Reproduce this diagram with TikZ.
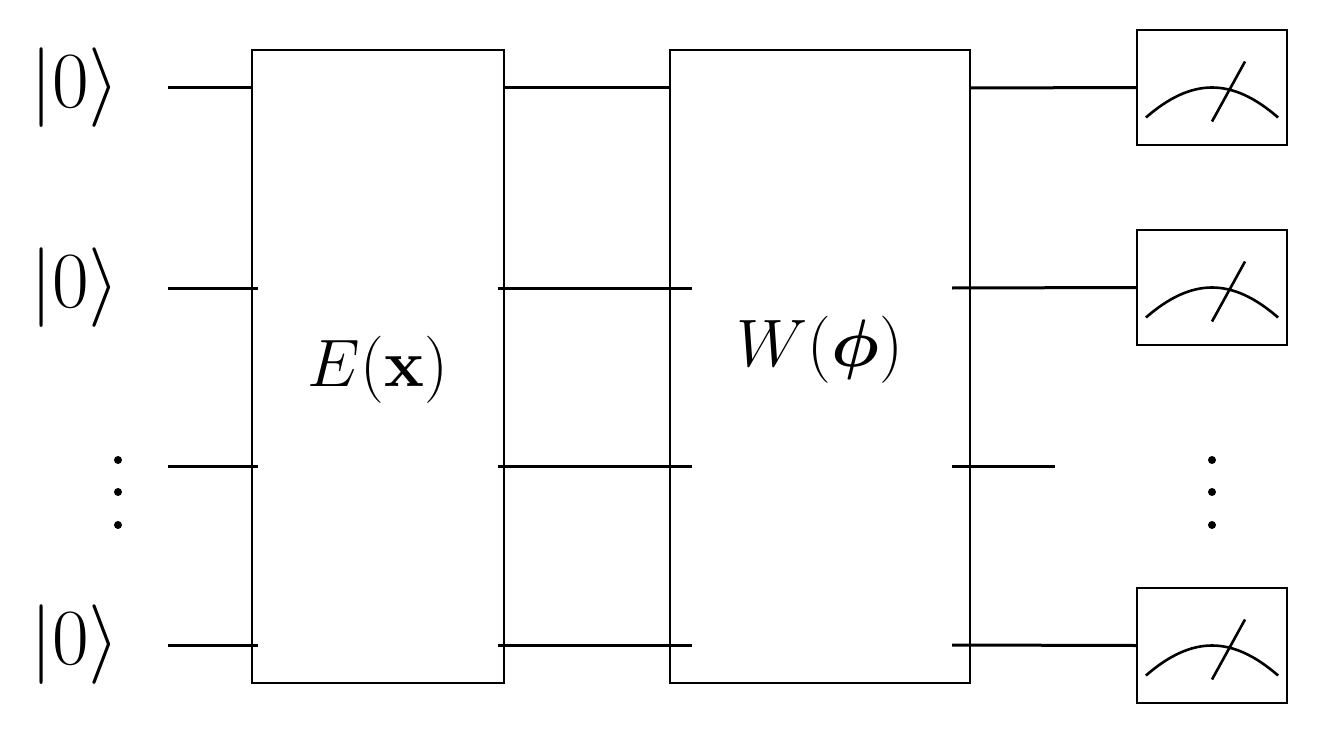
\documentclass[tikz,border=0pt]{standalone}
\usepackage{amsmath,bm}
\begin{document}
\begin{tikzpicture}[x=0.5pt,y=-0.5pt,
  wire/.style={line width=1.5pt},
  gatebox/.style={draw,line width=1.1pt,inner sep=0pt},
  ket/.style={font=\fontsize{40pt}{44pt}\selectfont,scale=1.6},
  lbl/.style={font=\fontsize{38pt}{42pt}\selectfont,scale=1.35}]
\useasboundingbox (0,0) rectangle (1322,738);
% kets
\node[ket] (k1) at (75,88) {$|0\rangle$};
\node[ket] (k2) at (75,288) {$|0\rangle$};
\node[ket] (k4) at (75,645) {$|0\rangle$};
\foreach \y in {460,492,525}{\fill (118,\y) circle (4); \fill (1212,\y) circle (4);}
% gates
\node[gatebox,minimum width=126pt,minimum height=316.5pt] (E) at (378,366.5) {};
\node[lbl] at (378,370) {$E(\mathbf{x})$};
\node[gatebox,minimum width=150pt,minimum height=316.5pt] (W) at (820,366.5) {};
\node[lbl] at (820,350) {$W(\bm{\phi})$};
% meters
\foreach \n/\cy in {1/87.5,2/287.5,3/645.5}{
  \node[gatebox,minimum width=75pt,minimum height=57.5pt] (m\n) at (1212,\cy) {};
  \draw[line width=1.3pt] ([xshift=5pt,yshift=-15pt]m\n.west) .. controls ([xshift=-10pt,yshift=5pt]m\n.center) and ([xshift=10pt,yshift=5pt]m\n.center) .. ([xshift=-5pt,yshift=-15pt]m\n.east);
  \draw[line width=1.3pt] ([yshift=-17pt]m\n.center) -- ([xshift=16.5pt,yshift=13pt]m\n.center);
}
% wires
\draw[wire] (168,88) -- (E.west |- 0,88);
\draw[wire] (E.east |- 0,88) -- (W.west |- 0,88);
\draw[wire] (W.east |- 0,88) -- (m1.west);
\foreach \y/\m in {288/m2,645/m3}{
  \draw[wire] (168,\y) -- (258,\y);
  \draw[wire] (498,\y) -- (692,\y);
  \draw[wire] (952,\y) -- (\m.west);
}
\draw[wire] (168,466) -- (258,466);
\draw[wire] (498,466) -- (692,466);
\draw[wire] (952,466) -- (1055,466);
\end{tikzpicture}
\end{document}
